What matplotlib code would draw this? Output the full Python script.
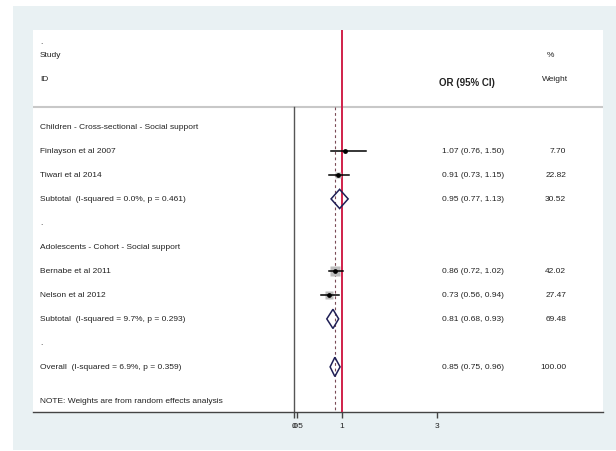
import matplotlib
matplotlib.use("Agg")
import matplotlib.pyplot as plt
from matplotlib.patches import Polygon, Rectangle

plt.rcParams['font.family'] = ['Liberation Sans', 'DejaVu Sans']

# data
groups = ["Children - Cross-sectional - Social support", "Adolescents - Cohort - Social support"]
studies = [["Finlayson et al 2007", "Tiwari et al 2014"], ["Bernabe et al 2011", "Nelson et al 2012"]]
or_est = [[1.07, 0.91], [0.86, 0.73]]
ci_lo = [[0.76, 0.73], [0.72, 0.56]]
ci_hi = [[1.50, 1.15], [1.02, 0.94]]
weights = [[7.70, 22.82], [42.02, 27.47]]

sub_labels = ["Subtotal  (I-squared = 0.0%, p = 0.461)", "Subtotal  (I-squared = 9.7%, p = 0.293)"]
sub_est = [0.95, 0.81]
sub_lo = [0.77, 0.68]
sub_hi = [1.13, 0.93]
sub_w = [30.52, 69.48]

overall_label = "Overall  (I-squared = 6.9%, p = 0.359)"
overall = [0.85, 0.75, 0.96, 100.00]

xticks = [0, 0.05, 1, 3]
xticklabels = ["0", ".05", "1", "3"]

fig = plt.figure(figsize=(6.16, 4.52), dpi=100)
fig.patch.set_facecolor("white")
fig.patches.append(Rectangle((13/616, 1/452), 1, (452-8)/452, transform=fig.transFigure,
                             facecolor="#e9f1f3", edgecolor="none", zorder=-5))

ax = fig.add_axes([33/616, 39/452, 570/616, 382/452])
ax.set_facecolor("white")
ax.set_xlim(-5.505, 6.495)
ax.set_ylim(15.92, 0)
for s in ["top", "left", "right"]:
    ax.spines[s].set_visible(False)
ax.spines["bottom"].set_color("#444444")
ax.spines["bottom"].set_linewidth(1.0)
ax.set_yticks([])
ax.set_xticks(xticks)
ax.set_xticklabels(xticklabels, fontsize=6, color="#222222")
ax.tick_params(axis="x", length=4, width=1, color="#444444", pad=3)

txt = dict(fontsize=6, color="#222222", va="center")
tr = ax.get_yaxis_transform()  # x in axes fraction, y in data
xl = 0.0123
x_or = (504 - 33) / 570
x_w = (566 - 33) / 570

def or_text(e, lo, hi):
    return "%.2f (%.2f, %.2f)" % (e, lo, hi)

def diamond(e, lo, hi, y, h=0.4):
    ax.add_patch(Polygon([[lo, y], [e, y - h], [hi, y], [e, y + h]], closed=True,
                         facecolor="none", edgecolor="#1f1f55", lw=1.1, zorder=4))

# header
ax.text(xl, 0.5, ".", transform=tr, **txt)
ax.text(xl, 1.04, "Study", transform=tr, **txt)
ax.text(xl, 2.04, "ID", transform=tr, **txt)
ax.text((439 - 33) / 570, 2.17, "OR (95% CI)", transform=tr, fontsize=7, fontweight="bold",
        color="#222222", va="center")
ax.text((547 - 33) / 570, 1.04, "%", transform=tr, **txt)
ax.text((542 - 33) / 570, 2.04, "Weight", transform=tr, **txt)
ax.axhline(3.2, color="#c8c8c8", lw=1.5, zorder=1)

# reference lines
ax.plot([0, 0], [3.2, 15.92], color="#555555", lw=1.0, zorder=2)
ax.axvline(1, color="#d0204a", lw=1.4, zorder=3)
ax.plot([overall[0], overall[0]], [3.2, 15.92], color="#7a4a56", lw=0.8,
        ls=(0, (2.5, 2.5)), zorder=3)

row = 4.04
for g in range(len(groups)):
    ax.text(xl, row, groups[g], transform=tr, **txt)
    row += 1
    for i in range(len(studies[g])):
        ax.text(xl, row, studies[g][i], transform=tr, **txt)
        side = 1.39 * weights[g][i] ** 0.5 * 0.72
        ax.plot(or_est[g][i], row, marker="s", ms=side, color="#bdbdbd", mec="none", zorder=3)
        ax.plot([ci_lo[g][i], ci_hi[g][i]], [row, row], color="black", lw=1.1, zorder=5)
        ax.plot(or_est[g][i], row, marker="o", ms=2.4, color="black", zorder=6)
        ax.text(x_or, row, or_text(or_est[g][i], ci_lo[g][i], ci_hi[g][i]), transform=tr,
                ha="right", **txt)
        ax.text(x_w, row, "%.2f" % weights[g][i], transform=tr, ha="right", **txt)
        row += 1
    ax.text(xl, row, sub_labels[g], transform=tr, **txt)
    diamond(sub_est[g], sub_lo[g], sub_hi[g], row)
    ax.text(x_or, row, or_text(sub_est[g], sub_lo[g], sub_hi[g]), transform=tr, ha="right", **txt)
    ax.text(x_w, row, "%.2f" % sub_w[g], transform=tr, ha="right", **txt)
    row += 1
    ax.text(xl, row, ".", transform=tr, **txt)
    row += 1

row = 14.04
ax.text(xl, row, overall_label, transform=tr, **txt)
diamond(overall[0], overall[1], overall[2], row)
ax.text(x_or, row, or_text(overall[0], overall[1], overall[2]), transform=tr, ha="right", **txt)
ax.text(x_w, row, "%.2f" % overall[3], transform=tr, ha="right", **txt)

ax.text(xl, 15.46, "NOTE: Weights are from random effects analysis", transform=tr, **txt)

fig.savefig("out.png", dpi=100)
